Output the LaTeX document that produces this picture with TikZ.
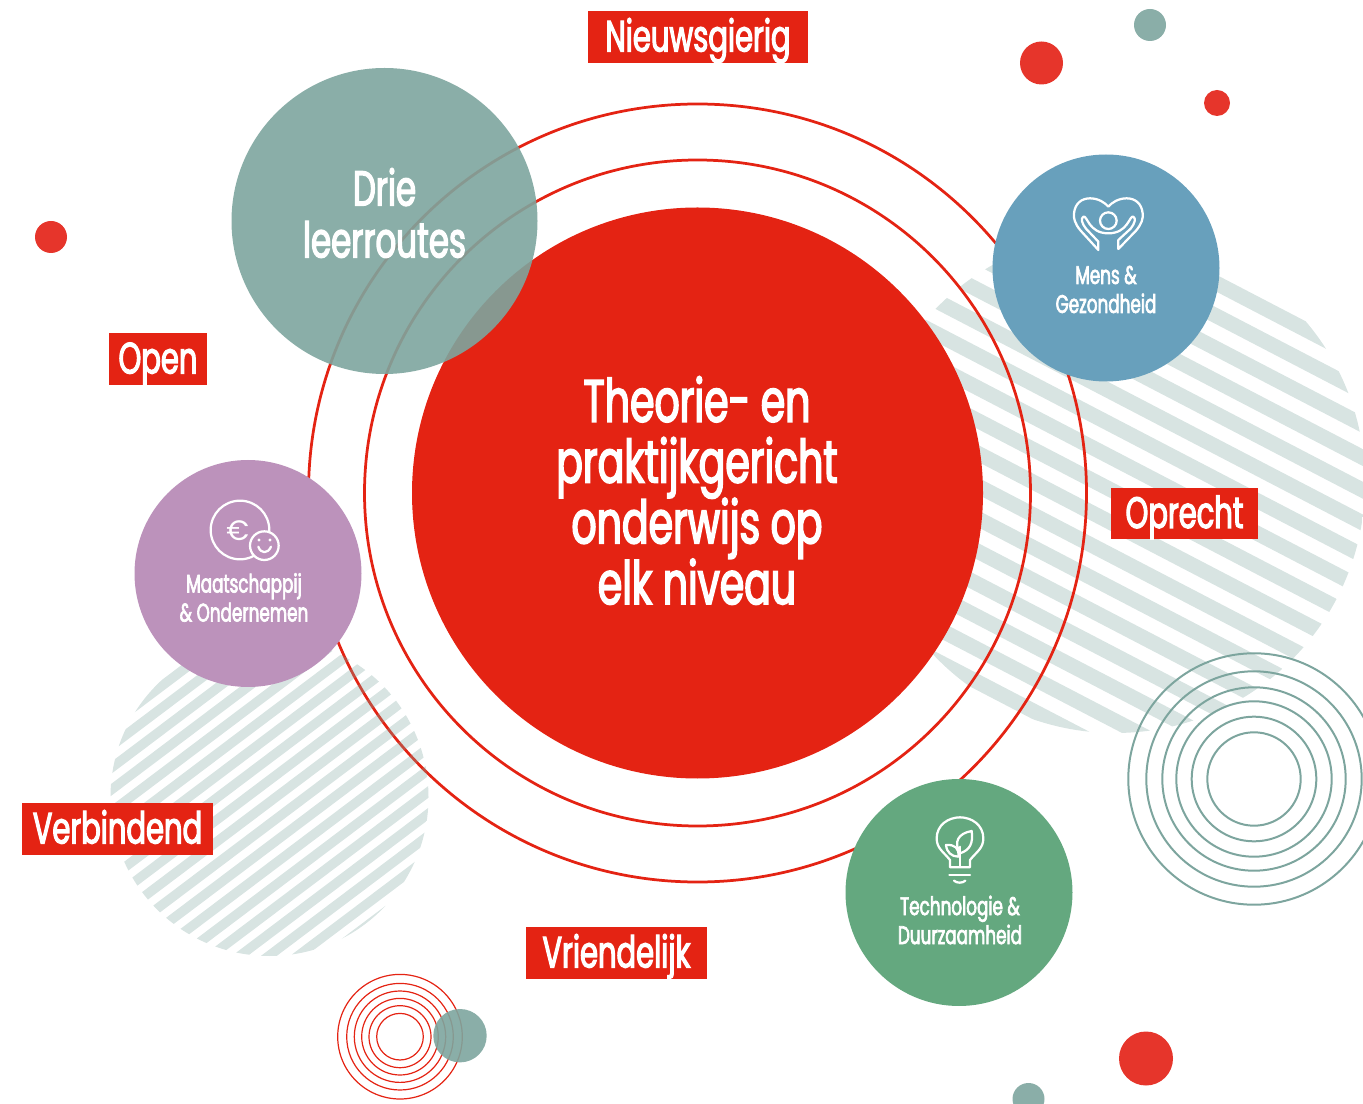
\documentclass[tikz,border=0pt]{standalone}
\usepackage{fontspec}
\setmainfont[FakeStretch=0.66,FakeBold=2.6]{Poppins}
\newfontfamily\eurofont{Poppins}
\newcommand\tightlines{\lineskiplimit -1cm\relax}
\definecolor{hubred}{HTML}{E42313}
\definecolor{dotred}{HTML}{E6352B}
\definecolor{routeteal}{HTML}{7DA59E}
\definecolor{mensblue}{HTML}{68A0BC}
\definecolor{maatpurple}{HTML}{BC92BB}
\definecolor{techgreen}{HTML}{64A87F}
\tikzset{
  redtag/.style={fill=hubred,text=white,inner sep=0,minimum height=1.04cm,minimum width=#1,
    text height=0.68cm,text depth=0.1cm,font=\fontsize{25}{25}\selectfont},
  bigtext/.style={text=white,align=center,inner sep=0,font=\fontsize{34}{34.6}\selectfont\tightlines},
  midtext/.style={text=white,align=center,inner sep=0,font=\fontsize{28}{29.5}\selectfont\tightlines},
  smalltext/.style={text=white,align=center,inner sep=0,font=\fontsize{14.5}{16.5}\selectfont\tightlines},
  ringline/.style={draw=hubred,line width=0.055cm},
  tealhoop/.style={draw=routeteal,line width=0.04cm},
  redhoop/.style={draw=hubred,line width=0.024cm},
  stripeline/.style={draw=routeteal,draw opacity=0.3},
  iconline/.style={draw=white,line width=0.045cm,line join=round,line cap=round}
}
\begin{document}
\begin{tikzpicture}[x=0.02cm,y=-0.02cm]
\useasboundingbox (0,0) rectangle (1363,1104);
\clip (0,0) rectangle (1363,1104);
\begin{scope}
\clip (1115,483) circle [radius=250];
\begin{scope}[shift={(1115,483)},rotate=-27.5]
\foreach \k in {-8,...,8}
  \draw[stripeline,line width=0.3cm] (-300,{\k*29+8}) -- (300,{\k*29+8});
\end{scope}
\end{scope}
\draw[ringline] (697.5,493) circle [radius=389];
\draw[ringline] (697.5,493) circle [radius=333];
\fill[hubred] (697.5,493) circle [radius=285.5];
\begin{scope}
\clip (269.5,797) circle [radius=159];
\begin{scope}[shift={(269.5,797)},rotate=37]
\foreach \k in {-10,...,10}
  \draw[stripeline,line width=0.19cm] (-200,{\k*17.5+4}) -- (200,{\k*17.5+4});
\end{scope}
\end{scope}
\fill[routeteal,fill opacity=0.9] (384.5,221) circle [radius=153];
\fill[mensblue] (1106,268) circle [radius=113.5];
\fill[maatpurple] (248,573.5) circle [radius=113.5];
\fill[techgreen] (959,892.5) circle [radius=113.5];
\fill[dotred] (1041.5,63) circle [radius=21.5];
\fill[dotred] (1217,103) circle [radius=13];
\fill[dotred] (51,237) circle [radius=16];
\fill[dotred] (1146,1058.5) circle [radius=27];
\fill[routeteal,fill opacity=0.9] (1150,25) circle [radius=16];
\fill[routeteal,fill opacity=0.9] (1028.5,1099) circle [radius=16];
\foreach \r in {46.7,62.3,77.7,91.7,107.7,125.7}
  \draw[tealhoop] (1254,779) circle [radius=\r];
\foreach \r in {23.3,31,38.3,45.7,53.3,62.3}
  \draw[redhoop] (400,1036.7) circle [radius=\r];
\fill[routeteal,fill opacity=0.9] (460,1035.7) circle [radius=26.7];
\node[bigtext] (hub) at (697,490.5) {Theorie- en\\praktijkgericht\\onderwijs op\\elk niveau};
\node[midtext] (routes) at (384.5,213) {Drie\\leerroutes};
\node[smalltext] (mens) at (1106,289.5) {Mens \&\\Gezondheid};
\node[smalltext] (maat) at (244,597.5) {Maatschappij\\\& Ondernemen};
\node[smalltext] (tech) at (960,920) {Technologie \&\\Duurzaamheid};
\node[redtag=4.4cm] (nieuwsgierig) at (698,37) {Nieuwsgierig};
\node[redtag=1.96cm] (open) at (158,359) {Open};
\node[redtag=2.94cm] (oprecht) at (1184.5,513.5) {Oprecht};
\node[redtag=3.82cm] (verbindend) at (117.5,829) {Verbindend};
\node[redtag=3.62cm] (vriendelijk) at (616.5,953) {Vriendelijk};
\begin{scope}[shift={(1040,180)},scale=1/3]
\draw[iconline] (175,210) -- (175,185) -- (138,146) .. controls (125,130) and (122,115) .. (130,110)
  .. controls (142,105) and (145,160) .. (205,160) .. controls (265,160) and (268,105) .. (280,110)
  .. controls (288,115) and (285,130) .. (272,146) -- (235,180) -- (235,207) -- (288,152)
  .. controls (305,132) and (310,115) .. (308,100) .. controls (305,70) and (285,55) .. (260,55)
  .. controls (235,55) and (215,68) .. (205,80) .. controls (195,68) and (175,55) .. (150,55)
  .. controls (125,55) and (105,70) .. (102,100) .. controls (100,115) and (105,132) .. (122,152) -- cycle;
\draw[iconline] (205,122) circle [radius=25];
\end{scope}
\begin{scope}[shift={(190,490)},scale=1/3]
\draw[iconline] (150,120) circle [radius=88];
\filldraw[iconline,fill=maatpurple] (223,167) circle [radius=43];
\fill[white] (207,150) circle [radius=5];
\fill[white] (240,150) circle [radius=5];
\draw[iconline] (205,170) .. controls (212,192) and (234,192) .. (243,170);
\node[text=white,inner sep=0,font=\eurofont\fontsize{16}{16}\selectfont] (euro) at (143,122) {€};
\end{scope}
\begin{scope}[shift={(910,805)},scale=1/3]
\draw[iconline] (120,187) -- (120,165) .. controls (100,140) and (80,130) .. (80,100)
  .. controls (80,60) and (115,37) .. (150,37) .. controls (185,37) and (220,60) .. (220,100)
  .. controls (220,130) and (200,140) .. (180,165) -- (180,187) -- cycle;
\draw[iconline] (118,210) -- (180,210);
\draw[iconline] (132,227) .. controls (140,235) and (158,235) .. (166,227);
\draw[iconline] (150,185) -- (150,125);
\draw[iconline] (150,145) .. controls (130,110) and (145,85) .. (185,78) .. controls (190,115) and (180,135) .. (150,145);
\draw[iconline] (145,155) .. controls (148,130) and (135,118) .. (108,120) .. controls (110,142) and (125,155) .. (145,155);
\end{scope}
\end{tikzpicture}
\end{document}
